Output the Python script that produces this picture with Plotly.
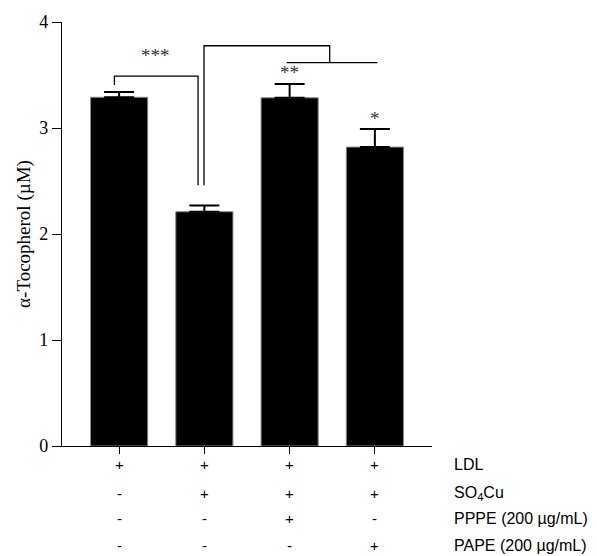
import plotly.graph_objects as go

categories = [0, 1, 2, 3]
values = [3.29, 2.21, 3.285, 2.82]
errors = [0.05, 0.06, 0.13, 0.17]
y_ticks = [0, 1, 2, 3, 4]
row_labels = ["LDL", "SO<sub>4</sub>Cu", "PPPE (200 \u00b5g/mL)", "PAPE (200 \u00b5g/mL)"]
row_signs = [
    ["+", "+", "+", "+"],
    ["-", "+", "+", "+"],
    ["-", "-", "+", "-"],
    ["-", "-", "-", "+"],
]
stars = ["***", "**", "*"]
star_x = [0.43, 2.0, 3.0]
star_y = [3.68, 3.52, 3.09]

serif = "Liberation Serif, Times New Roman, serif"
sans = "Liberation Sans, Arial, sans-serif"

fig = go.Figure()
fig.add_trace(go.Bar(
    x=categories, y=values, width=0.67,
    marker=dict(color="black", line=dict(color="#888888", width=1)),
    error_y=dict(type="data", symmetric=False, array=errors,
                 arrayminus=[0, 0, 0, 0], color="black", thickness=2, width=15),
    showlegend=False,
))

# significance brackets
line = dict(color="black", width=1.3)
brackets = [
    [(-0.055, 3.406), (-0.055, 3.49), (0.926, 3.49), (0.926, 2.46)],
    [(0.996, 2.46), (0.996, 3.776), (2.47, 3.776), (2.47, 3.616)],
    [(1.965, 3.616), (3.03, 3.616)],
]
for pts in brackets:
    fig.add_trace(go.Scatter(
        x=[p[0] for p in pts], y=[p[1] for p in pts], mode="lines",
        line=line, showlegend=False, hoverinfo="skip", cliponaxis=False,
    ))

for s, sx, sy in zip(stars, star_x, star_y):
    fig.add_annotation(x=sx, y=sy, text=s, showarrow=False, yanchor="middle",
                       font=dict(family=serif, size=19, color="#333"))

row_py = [464, 493, 518, 545]
for r, (lab, signs) in enumerate(zip(row_labels, row_signs)):
    yp = (446 - row_py[r]) / 424
    for c, s in enumerate(signs):
        fig.add_annotation(x=categories[c], xref="x", y=yp, yref="paper", text=s,
                           showarrow=False, yanchor="middle", xanchor="center",
                           font=dict(family=sans, size=15, color="black"))
    fig.add_annotation(x=1.054, xref="paper", y=yp, yref="paper", text=lab,
                       showarrow=False, xanchor="left", yanchor="middle",
                       font=dict(family=sans, size=16, color="black"))

# page has an 8px default body margin: compensate so plot sits where the reference has it
fig.update_layout(
    width=589, height=548,
    margin=dict(l=54, r=165, t=14, b=110),
    plot_bgcolor="white", paper_bgcolor="white",
    xaxis=dict(range=[-0.67, 3.67], tickvals=categories, showticklabels=False,
               showline=True, linecolor="black", linewidth=1.3, ticks="outside",
               ticklen=7, tickwidth=1.3, tickcolor="black", showgrid=False,
               zeroline=False, automargin=False),
    yaxis=dict(range=[0, 4], tickvals=y_ticks, showline=True, linecolor="black",
               linewidth=1.3, ticks="outside", ticklen=9, tickwidth=1.3, tickcolor="black",
               showgrid=False, zeroline=False, automargin=False,
               tickfont=dict(family=serif, size=18, color="black"),
               title=dict(text="\u03b1-Tocopherol (\u00b5M)", standoff=3,
                          font=dict(family=serif, size=19, color="black"))),
)

fig.write_html("out.html")
